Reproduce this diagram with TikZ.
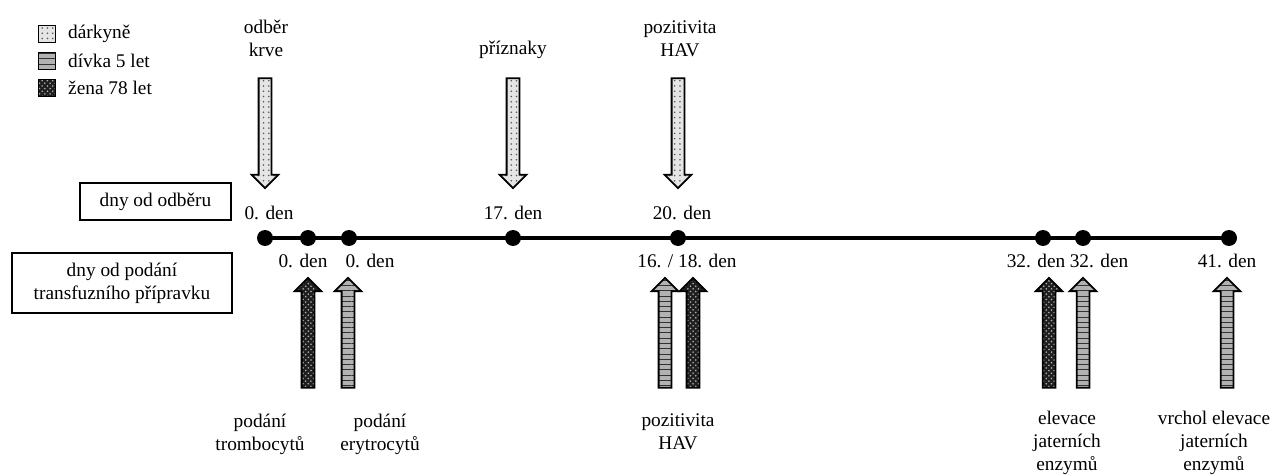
\documentclass[tikz,border=0pt]{standalone}
\usepackage{fontspec}
\setmainfont{Liberation Serif}
\usetikzlibrary{shapes.arrows}
\usetikzlibrary{patterns}
\tikzset{x = 0.02cm, y = -0.02cm, font = \fontsize{11}{13}\selectfont}
\tikzset{
  donor/.style = {preaction = {fill = black!10}, pattern = dots, pattern color = black!65},
  girl/.style = {preaction = {fill = black!30}, pattern = horizontal lines, pattern color = black!80},
  woman/.style = {preaction = {fill = black!88}, pattern = crosshatch dots, pattern color = white!70!black},
  bigarrow/.style = {single arrow, draw, line width = 1pt, inner xsep = 0pt, inner ysep = 0.11cm,
    minimum height = 2.2cm, single arrow head extend = 0.14cm},
  arrowdown/.style = {bigarrow, rotate = -90},
  arrowup/.style = {bigarrow, rotate = 90},
  daydot/.style = {circle, fill, inner sep = 0pt, minimum size = 0.32cm},
  legendbox/.style = {draw, line width = 0.8pt, inner sep = 0pt, minimum size = 0.34cm},
  labelbox/.style = {draw, line width = 1.2pt, align = center, inner sep = 0pt},
  txt/.style = {align = center}
}

\begin{document}
\begin{tikzpicture}
    \useasboundingbox (0,0) rectangle (1276,476);
    % legend
    \node [legendbox, donor] (l1) at (47,34) {};
    \node [legendbox, girl] (l2) at (47,61) {};
    \node [legendbox, woman] (l3) at (47,88) {};
    \node [anchor = west] (t1) at (62,34) {dárkyně};
    \node [anchor = west] (t2) at (62,61) {dívka 5 let};
    \node [anchor = west] (t3) at (62,88) {žena 78 let};
    % row boxes
    \node [labelbox, minimum width = 3.02cm, minimum height = 0.74cm] (odber) at (155.5,201.5) {dny od odběru};
    \node [labelbox, minimum width = 4.4cm, minimum height = 1.2cm] (podani) at (122,283) {dny od podání\\transfuzního přípravku};
    % time line
    \node [daydot] (d0) at (265,238) {};
    \node [daydot] (d0b) at (308,238) {};
    \node [daydot] (d0c) at (349,238) {};
    \node [daydot] (d17) at (513,238) {};
    \node [daydot] (d20) at (678,238) {};
    \node [daydot] (d32) at (1043,238) {};
    \node [daydot] (d32b) at (1083,238) {};
    \node [daydot] (d41) at (1229,238) {};
    \draw [line width = 1.9pt] (d0.center) -- (d41.center);
    % day labels
    \node (top0) at (269,213) {0. den};
    \node (top17) at (513,213) {17. den};
    \node (top20) at (682,213) {20. den};
    \node (bot0) at (303,261) {0. den};
    \node (bot0b) at (370,261) {0. den};
    \node (bot16) at (687,261) {16. / 18. den};
    \node (bot32) at (1036,261) {32. den};
    \node (bot32b) at (1099,261) {32. den};
    \node (bot41) at (1227,261) {41. den};
    % donor arrows
    \node [arrowdown, donor] (a1) at (265,130) {};
    \node [arrowdown, donor] (a2) at (513,130) {};
    \node [arrowdown, donor] (a3) at (678,130) {};
    \node [txt] (e1) at (266,38) {odběr\\krve};
    \node [txt] (e2) at (513,50) {příznaky};
    \node [txt] (e3) at (680,39) {pozitivita\\HAV};
    % recipient arrows
    \node [arrowup, woman] (b1) at (308,336) {};
    \node [arrowup, girl] (b2) at (348,336) {};
    \node [arrowup, girl] (b3) at (665,336) {};
    \node [arrowup, woman] (b4) at (693,336) {};
    \node [arrowup, woman] (b5) at (1049,336) {};
    \node [arrowup, girl] (b6) at (1083,336) {};
    \node [arrowup, girl] (b7) at (1227,336) {};
    \node [txt] (f1) at (260,434) {podání\\trombocytů};
    \node [txt] (f2) at (380,434) {podání\\erytrocytů};
    \node [txt] (f3) at (678,432) {pozitivita\\HAV};
    \node [txt] (f4) at (1067,443) {elevace\\jaterních\\enzymů};
    \node [txt] (f5) at (1214,443) {vrchol elevace\\jaterních\\enzymů};
\end{tikzpicture}
\end{document}
